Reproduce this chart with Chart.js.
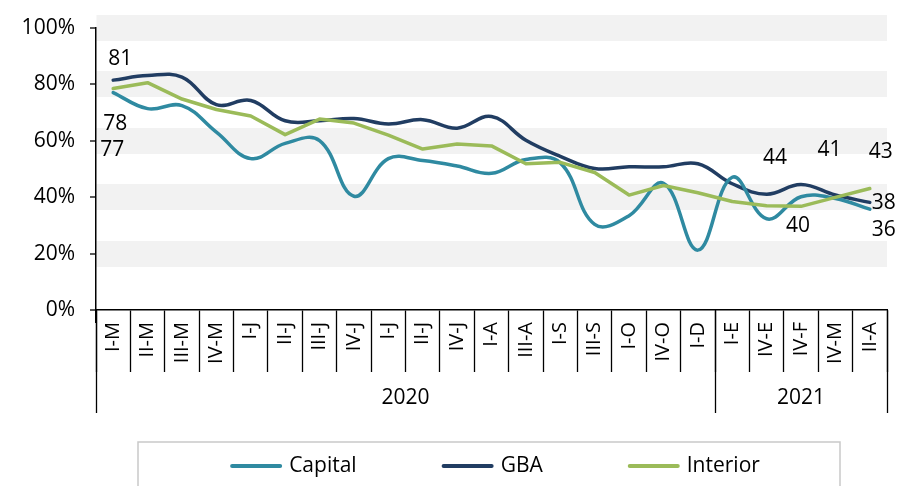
<!DOCTYPE html>
<html lang="en">
<head>
    <meta charset="UTF-8">
    <title>Capital, GBA e Interior</title>
    <script src="https://cdn.jsdelivr.net/npm/chart.js"></script>
    <style>
        html, body {
            margin: 0;
            padding: 0;
            background: #ffffff;
        }

        .chart-container {
            position: relative;
            width: 915px;
            height: 486px;
        }
    </style>
</head>
<body>

    <div class="chart-container">
        <canvas id="lineChart"></canvas>
    </div>

    <script>
        // Categories (x axis) and the year groups under them
        const categories = ['I-M', 'II-M', 'III-M', 'IV-M', 'I-J', 'II-J', 'III-J', 'IV-J', 'I-J', 'II-J', 'IV-J',
            'I-A', 'III-A', 'I-S', 'III-S', 'I-O', 'IV-O', 'I-D', 'I-E', 'IV-E', 'IV-F', 'IV-M', 'II-A'];
        const years = ['2020', '2021'];
        const yearCounts = [18, 5];

        // Series values (%)
        const capital = [77, 71.3, 72.4, 63, 53.6, 59, 60, 40.3, 53.6, 52.9, 51, 48.4, 53.3, 52.1, 30.3, 33.4, 44.9, 21.2, 47, 32.3, 40.1, 39.5, 35.7];
        const gba = [81.4, 83, 82.5, 72.7, 74.2, 67, 67, 67.8, 65.9, 67.4, 64.4, 68.5, 60.1, 54.4, 50.1, 50.7, 50.7, 51.8, 44.7, 41, 44.4, 40.7, 38.1];
        const interior = [78.4, 80.5, 74.7, 71, 68.7, 62.1, 67.6, 66.2, 61.9, 57, 58.8, 58.1, 51.8, 52.3, 48.7, 40.7, 44.1, 41.5, 38.4, 36.9, 36.7, 39.9, 43];

        // Y axis ticks
        const yMin = 0;
        const yMax = 100;
        const yStep = 20;

        const FONT = "'Open Sans', 'Noto Sans', sans-serif";

        // Which points carry a value label, and where the label sits relative to the point
        const labelSpots = [
            { series: 1, index: 0, dx: 7, dy: -21 },
            { series: 2, index: 0, dx: 2, dy: 35 },
            { series: 0, index: 0, dx: -1, dy: 57 },
            { series: 1, index: 20, dx: -26, dy: -27 },
            { series: 0, index: 20, dx: -3, dy: 29 },
            { series: 1, index: 21, dx: -6, dy: -45 },
            { series: 2, index: 22, dx: 11, dy: -37 },
            { series: 1, index: 22, dx: 14, dy: 1 },
            { series: 0, index: 22, dx: 14, dy: 21 }
        ];

        // Draws the value labels
        const valueLabels = {
            id: 'valueLabels',
            afterDatasetsDraw(chart) {
                const ctx = chart.ctx;
                ctx.save();
                ctx.font = '21px ' + FONT;
                ctx.fillStyle = '#000';
                ctx.textAlign = 'center';
                ctx.textBaseline = 'middle';
                labelSpots.forEach(s => {
                    const pt = chart.getDatasetMeta(s.series).data[s.index];
                    const v = chart.data.datasets[s.series].data[s.index];
                    ctx.fillText(Math.round(v), pt.x + s.dx, pt.y + s.dy);
                });
                ctx.restore();
            }
        };

        // Second row of the x axis: the years, with their separators
        const yearRow = {
            id: 'yearRow',
            afterDraw(chart) {
                const x = chart.scales.x;
                const w = x.width / categories.length;
                const edge = i => x.getPixelForValue(i) - w / 2;
                const ctx = chart.ctx;
                ctx.save();
                ctx.strokeStyle = '#000';
                ctx.lineWidth = 1.3;
                ctx.font = '21px ' + FONT;
                ctx.fillStyle = '#000';
                ctx.textAlign = 'center';
                ctx.textBaseline = 'middle';
                let start = 0;
                const bounds = [0];
                years.forEach((yr, k) => {
                    const end = start + yearCounts[k];
                    bounds.push(end);
                    ctx.fillText(yr, (edge(start) + edge(end)) / 2, x.top + 88);
                    start = end;
                });
                bounds.forEach(b => {
                    const px = Math.round(edge(b)) + 0.5;
                    ctx.beginPath();
                    ctx.moveTo(px, x.top);
                    ctx.lineTo(px, x.top + 103);
                    ctx.stroke();
                });
                ctx.restore();
            }
        };

        // Legend in a framed box under the chart
        const boxLegend = {
            id: 'boxLegend',
            afterDraw(chart) {
                const ctx = chart.ctx;
                const left = 138, right = 840, top = 442;
                const lineLen = 52, gapText = 7, gapItem = 85;
                const midY = 466;
                ctx.save();
                ctx.strokeStyle = '#c9c9c9';
                ctx.lineWidth = 1.5;
                ctx.strokeRect(left, top, right - left, chart.height - top + 5);

                ctx.font = '21px ' + FONT;
                const items = chart.data.datasets.map(ds => ({
                    label: ds.label,
                    color: ds.borderColor,
                    w: lineLen + gapText + ctx.measureText(ds.label).width
                }));
                const total = items.reduce((a, it) => a + it.w, 0) + gapItem * (items.length - 1);
                let x = (left + right) / 2 - total / 2 + 6;
                ctx.textBaseline = 'middle';
                ctx.textAlign = 'left';
                items.forEach(it => {
                    ctx.strokeStyle = it.color;
                    ctx.lineWidth = 4;
                    ctx.lineCap = 'round';
                    ctx.beginPath();
                    ctx.moveTo(x + 2, midY);
                    ctx.lineTo(x + lineLen - 2, midY);
                    ctx.stroke();
                    ctx.fillStyle = '#000';
                    ctx.fillText(it.label, x + lineLen + gapText, midY);
                    x += it.w + gapItem;
                });
                ctx.restore();
            }
        };

        const ctx = document.getElementById('lineChart').getContext('2d');
        new Chart(ctx, {
            type: 'line',
            data: {
                labels: categories,
                datasets: [
                    {
                        label: 'Capital',
                        data: capital,
                        borderColor: '#2f8aa1',
                        borderWidth: 3.5,
                        tension: 0.4,
                        pointRadius: 0,
                        order: 1
                    },
                    {
                        label: 'GBA',
                        data: gba,
                        borderColor: '#213d62',
                        borderWidth: 3.5,
                        tension: 0.4,
                        pointRadius: 0,
                        order: 2
                    },
                    {
                        label: 'Interior',
                        data: interior,
                        borderColor: '#9bbb59',
                        borderWidth: 3.5,
                        tension: 0,
                        pointRadius: 0,
                        order: 0
                    }
                ]
            },
            options: {
                responsive: true,
                maintainAspectRatio: false,
                animation: false,
                layout: {
                    padding: { top: 19, right: 28, bottom: 74, left: 0 }
                },
                plugins: {
                    legend: { display: false },
                    tooltip: { enabled: false }
                },
                elements: {
                    line: { borderCapStyle: 'round', borderJoinStyle: 'round' }
                },
                scales: {
                    x: {
                        offset: true,
                        grid: {
                            offset: true,
                            drawOnChartArea: false,
                            drawTicks: true,
                            tickLength: 62,
                            tickColor: '#000',
                            tickWidth: 1.3
                        },
                        border: { color: '#000', width: 1.5 },
                        ticks: {
                            color: '#000',
                            font: { family: FONT, size: 20 },
                            minRotation: 90,
                            maxRotation: 90,
                            autoSkip: false,
                            padding: -50
                        },
                        afterFit: scale => { scale.height = 102; }
                    },
                    y: {
                        min: yMin,
                        max: yMax,
                        grid: {
                            color: c => (c.tick && c.tick.value === 0) ? 'rgba(0,0,0,0)' : '#f2f2f2',
                            lineWidth: 26,
                            tickColor: '#000',
                            tickWidth: 1.3,
                            tickLength: 6
                        },
                        border: { color: '#000', width: 1.5 },
                        ticks: {
                            stepSize: yStep,
                            color: '#000',
                            font: { family: FONT, size: 21 },
                            padding: 15,
                            callback: v => v + '%'
                        },
                        afterFit: scale => { scale.width = 96; }
                    }
                }
            },
            plugins: [valueLabels, yearRow, boxLegend]
        });
    </script>

</body>
</html>
